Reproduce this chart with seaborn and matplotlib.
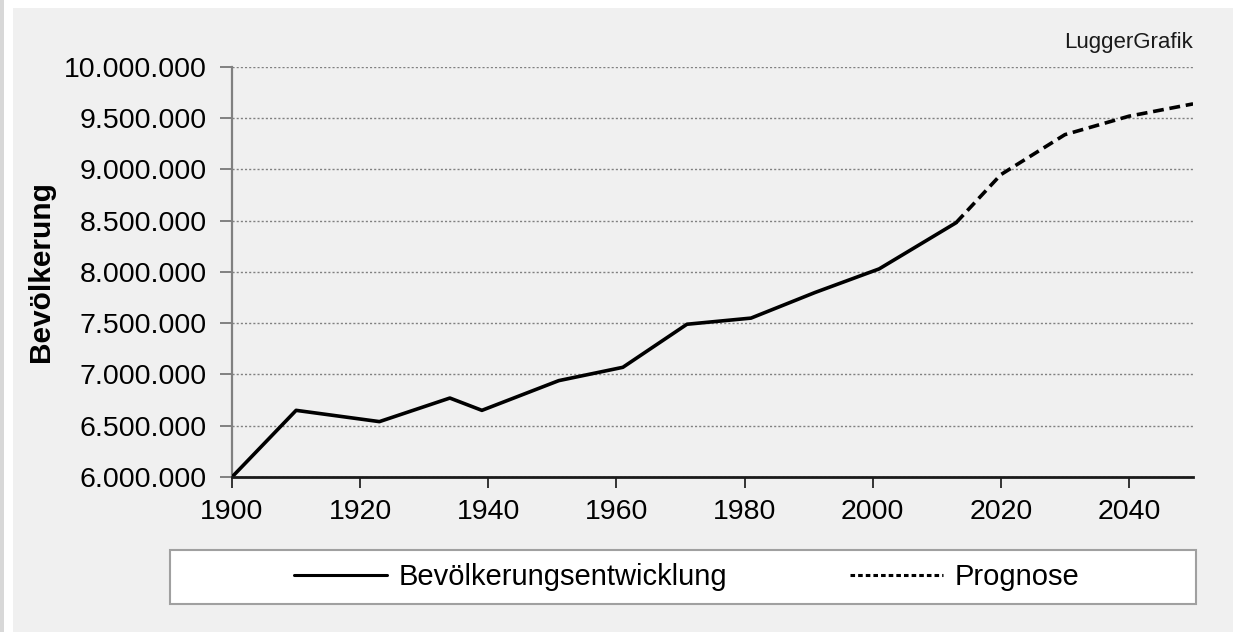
import numpy as np
import pandas as pd
import matplotlib.pyplot as plt
import matplotlib.ticker as mticker
from matplotlib.patches import Rectangle
import seaborn as sns

# Bevölkerungsentwicklung (Ist-Werte)
jahre = [1900, 1910, 1923, 1934, 1939, 1951, 1961, 1971, 1981, 1991, 2001, 2013]
bevoelkerung = [6000000, 6650000, 6540000, 6770000, 6650000, 6940000, 7070000,
                7490000, 7550000, 7800000, 8030000, 8480000]

# Prognose
prog_jahre = [2013, 2020, 2030, 2040, 2050]
prog_werte = [8480000, 8950000, 9340000, 9520000, 9640000]

x_ticks = list(range(1900, 2041, 20))
y_ticks = list(range(6000000, 10000001, 500000))

sns.set_style("white")
plt.rcParams['font.family'] = ['Liberation Sans', 'DejaVu Sans']

ist = pd.DataFrame({'Jahr': jahre, 'Wert': bevoelkerung})
prog = pd.DataFrame({'Jahr': prog_jahre, 'Wert': prog_werte})

fig = plt.figure(figsize=(12.33, 6.32), dpi=100, facecolor='white')

# grauer Hintergrund
fig.patches.append(Rectangle((0.0105, 0), 1.0, 0.987, transform=fig.transFigure,
                             facecolor='#f0f0f0', edgecolor='none', zorder=-10))
fig.patches.append(Rectangle((0, 0), 0.0035, 1.0, transform=fig.transFigure,
                             facecolor='#d8d8d8', edgecolor='none', zorder=-10))

ax = fig.add_axes([0.1882, 0.2453, 0.7794, 0.6487])
ax.set_facecolor('none')

sns.lineplot(data=ist, x='Jahr', y='Wert', ax=ax, color='black', linewidth=2.6,
             label='Bevölkerungsentwicklung', zorder=5)
sns.lineplot(data=prog, x='Jahr', y='Wert', ax=ax, color='black', linewidth=2.6,
             dashes=False, label='Prognose', zorder=5)
ax.lines[1].set_dashes((3, 1.6))

ax.set_xlim(1900, 2050)
ax.set_ylim(6000000, 10000000)
ax.set_xticks(x_ticks)
ax.set_yticks(y_ticks)
ax.yaxis.set_major_formatter(mticker.FuncFormatter(lambda v, p: f'{int(v):,}'.replace(',', '.')))

ax.grid(axis='y', linestyle=(0, (1.5, 1.5)), color='#808080', linewidth=1.0)
ax.grid(axis='x', visible=False)

for s in ['top', 'right']:
    ax.spines[s].set_visible(False)
ax.spines['left'].set_color('#808080')
ax.spines['left'].set_linewidth(1.6)
ax.spines['bottom'].set_color('#1a1a1a')
ax.spines['bottom'].set_linewidth(2.0)
ax.spines['bottom'].set_zorder(6)

ax.tick_params(axis='y', direction='out', length=9, width=1.4, color='#808080',
               labelsize=20.5, pad=9, left=True)
ax.tick_params(axis='x', direction='out', length=8, width=1.4, color='#333333',
               labelsize=20.5, pad=8, bottom=True)
for lab in ax.get_xticklabels() + ax.get_yticklabels():
    lab.set_color('black')

ax.set_xlabel('')
ax.set_ylabel('Bevölkerung', fontsize=21.5, fontweight='bold', color='black')
ax.yaxis.set_label_coords(-0.184, 0.5)

fig.text(0.9676, 0.932, 'LuggerGrafik', ha='right', va='center', fontsize=16, color='#1a1a1a')

# Legende
ax.get_legend().remove()
fig.patches.append(Rectangle((0.1379, 0.0443), 0.832, 0.0854, transform=fig.transFigure,
                             facecolor='white', edgecolor='#a0a0a0', linewidth=1.5, zorder=1))
handles, labels = ax.get_legend_handles_labels()
leg = fig.legend(handles, labels, loc='center', bbox_to_anchor=(0.557, 0.087), ncol=2,
                 frameon=False, fontsize=21, handlelength=3.2, handletextpad=0.4,
                 columnspacing=4.2)
for t in leg.get_texts():
    t.set_color('black')
for h in leg.legend_handles:
    h.set_linewidth(2.2)
leg.legend_handles[1].set_dashes((1.5, 1.0))

fig.savefig('out.png', dpi=100, facecolor=fig.get_facecolor())
